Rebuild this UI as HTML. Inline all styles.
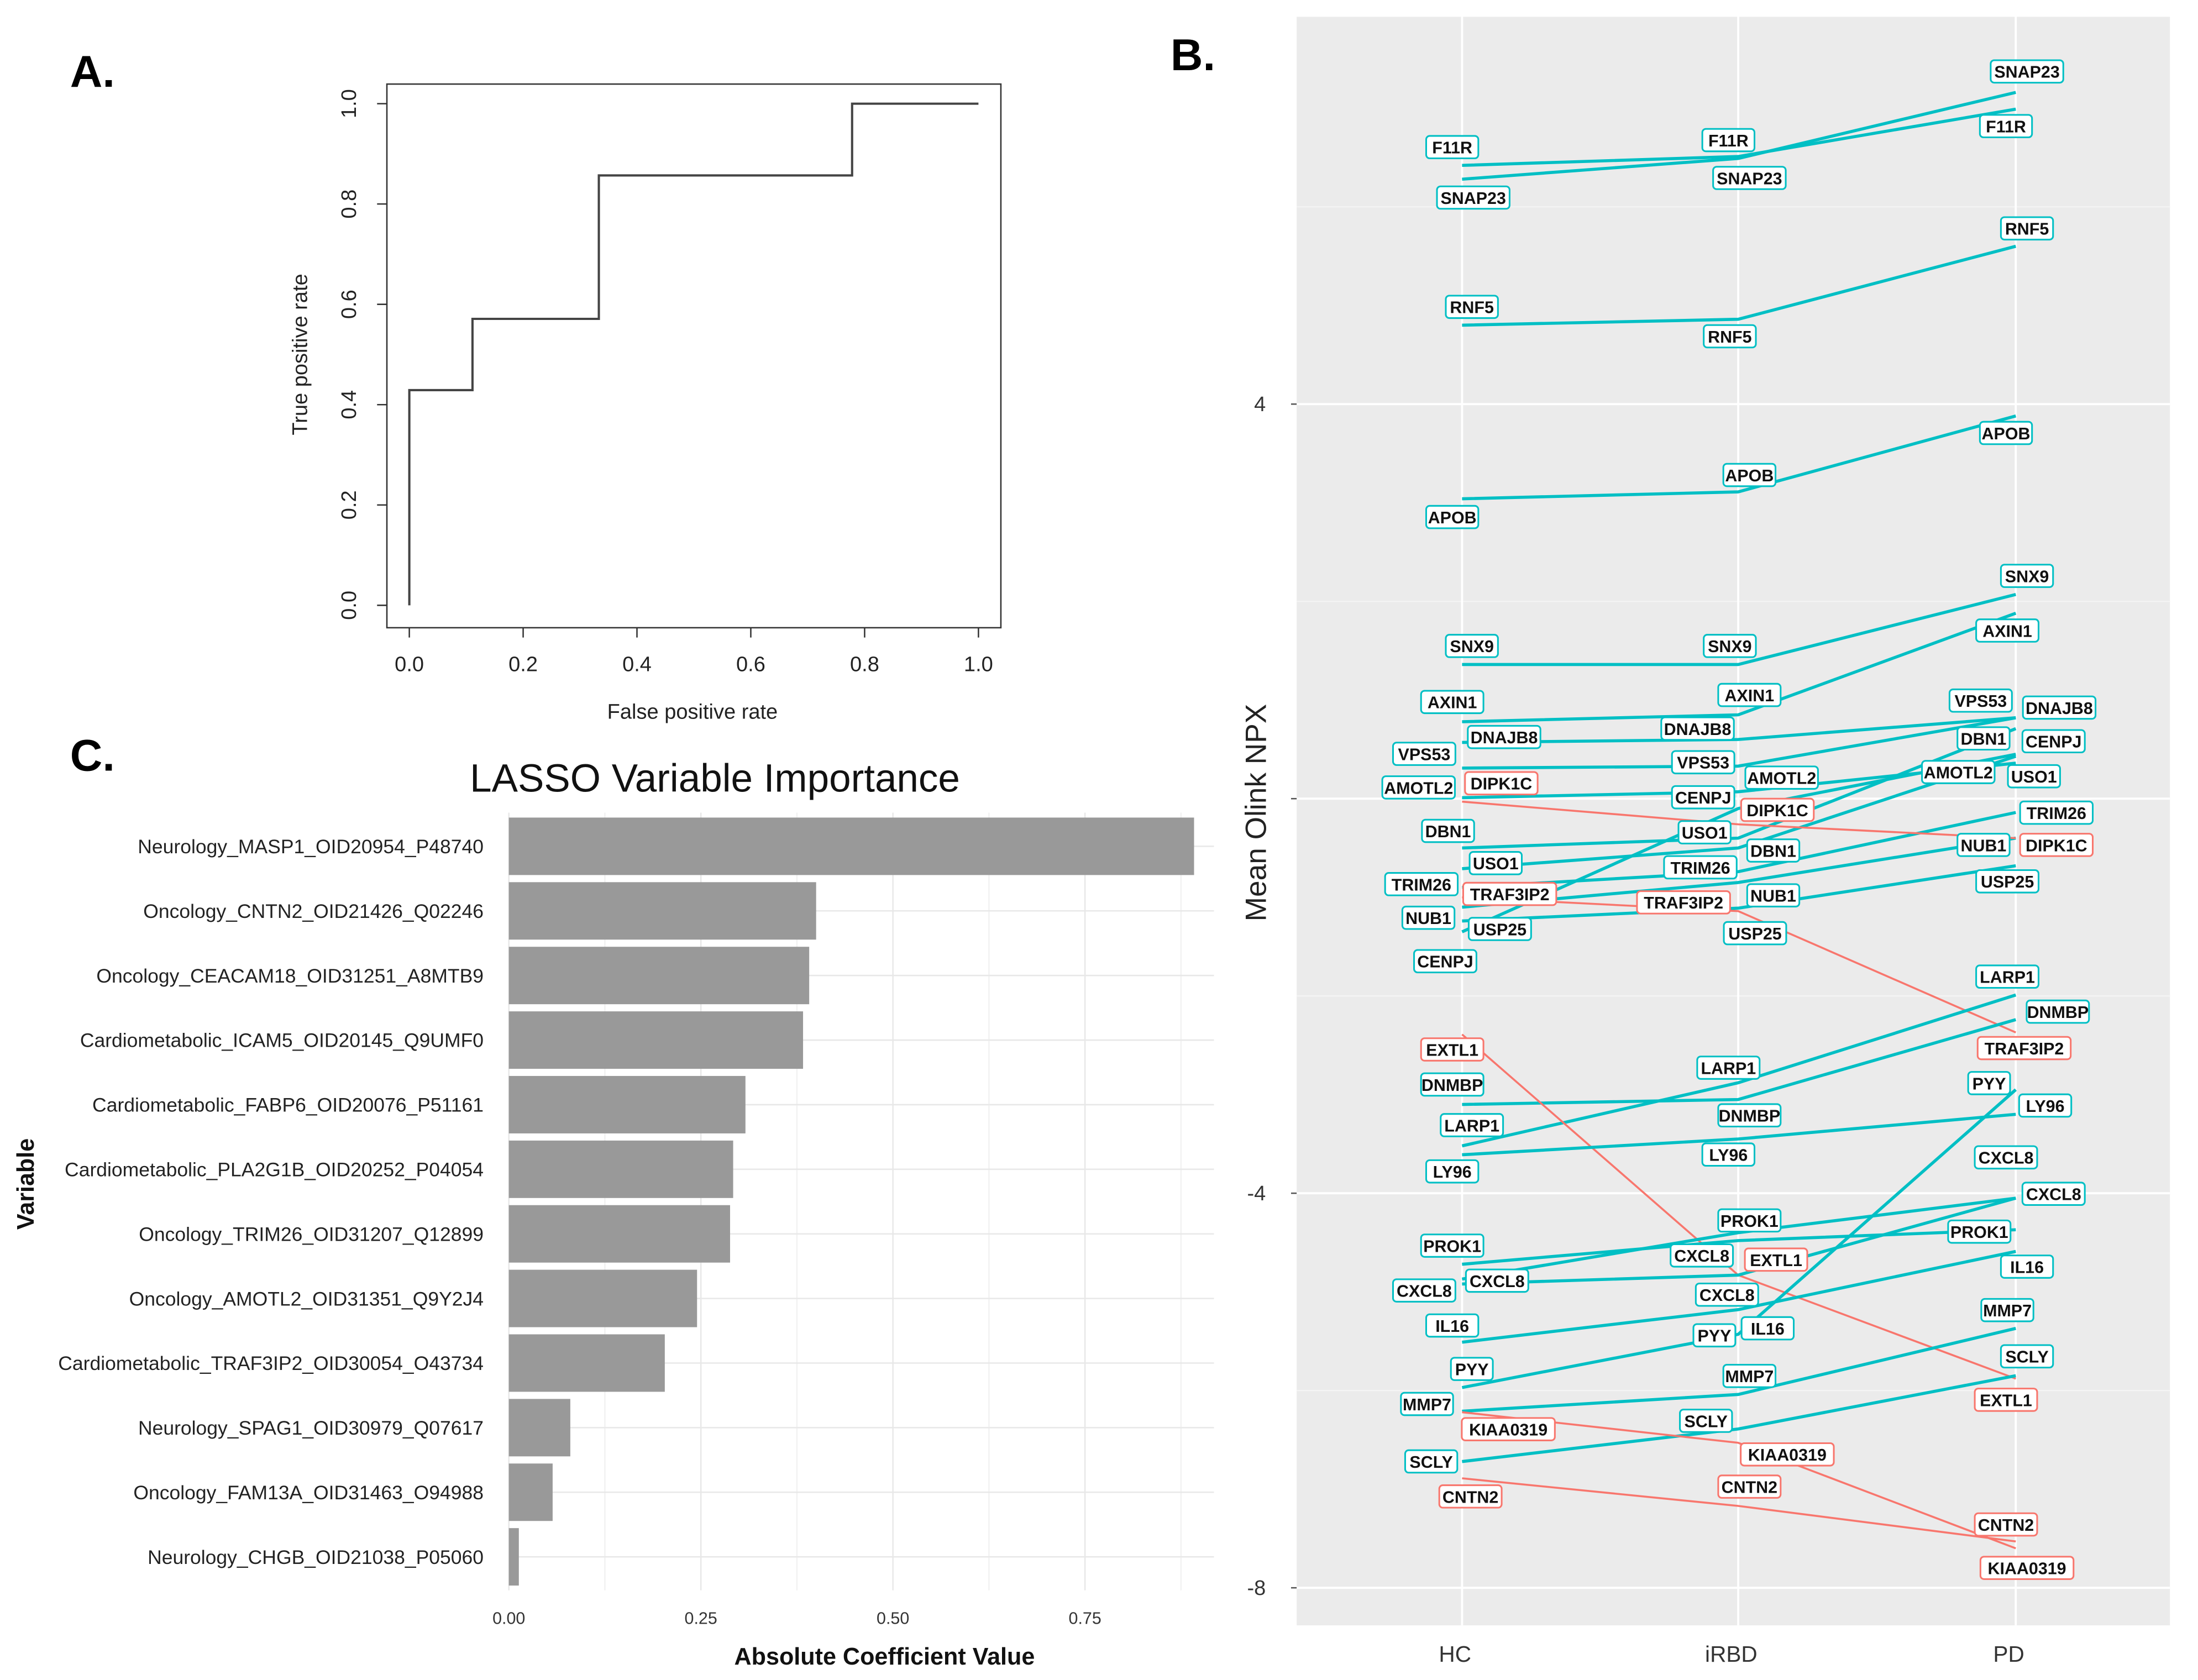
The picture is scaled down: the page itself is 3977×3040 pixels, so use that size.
<!DOCTYPE html>
<html><head><meta charset="utf-8"><style>
html,body{margin:0;padding:0;background:#fff;}
svg{display:block;}
</style></head><body>
<svg id="fig" xmlns="http://www.w3.org/2000/svg" width="3977" height="3040" viewBox="0 0 1568 1199" preserveAspectRatio="none" font-family="Liberation Sans, sans-serif">
<rect x="0" y="0" width="1568" height="1199" fill="#fff"/>
<text x="50" y="62" font-size="32" font-weight="bold">A.</text>
<text x="835" y="50" font-size="32" font-weight="bold">B.</text>
<text x="50" y="550" font-size="32" font-weight="bold">C.</text>
<g id="roc"></g>
<g id="lasso"></g>
<g id="npx"></g>
</svg>
<script>
// ---------- Panel A data ----------
const rocFpr = [0, 0, 0.111, 0.111, 0.333, 0.333, 0.778, 0.778, 1.0];
const rocTpr = [0, 0.429, 0.429, 0.571, 0.571, 0.857, 0.857, 1.0, 1.0];
const rocTicks = ["0.0","0.2","0.4","0.6","0.8","1.0"];

// ---------- Panel C data ----------
const lassoVars = ["Neurology_MASP1_OID20954_P48740","Oncology_CNTN2_OID21426_Q02246","Oncology_CEACAM18_OID31251_A8MTB9","Cardiometabolic_ICAM5_OID20145_Q9UMF0","Cardiometabolic_FABP6_OID20076_P51161","Cardiometabolic_PLA2G1B_OID20252_P04054","Oncology_TRIM26_OID31207_Q12899","Oncology_AMOTL2_OID31351_Q9Y2J4","Cardiometabolic_TRAF3IP2_OID30054_O43734","Neurology_SPAG1_OID30979_Q07617","Oncology_FAM13A_OID31463_O94988","Neurology_CHGB_OID21038_P05060"];
const lassoVals = [0.892, 0.400, 0.391, 0.383, 0.308, 0.292, 0.288, 0.245, 0.203, 0.080, 0.057, 0.013];
const lassoTicks = ["0.00","0.25","0.50","0.75"];

// ---------- Panel B data ----------
const groups = ["HC","iRBD","PD"];
const proteins = ["SNAP23","F11R","RNF5","APOB","SNX9","AXIN1","DNAJB8","VPS53","DBN1","AMOTL2","CENPJ","USO1","TRIM26","NUB1","USP25","DIPK1C","TRAF3IP2","LARP1","DNMBP","EXTL1","LY96","PYY","CXCL8","CXCL8","PROK1","IL16","MMP7","SCLY","KIAA0319","CNTN2"];
const hcVals   = [6.28,6.42,4.80,3.04,1.36,0.78,0.57,0.31,-0.50,0.01,-1.35,-0.71,-0.90,-1.10,-1.24,-0.03,-1.00,-3.52,-3.10,-2.39,-3.61,-5.97,-4.92,-4.87,-4.72,-5.51,-6.21,-6.72,-6.22,-6.89];
const irbdVals = [6.49,6.51,4.86,3.11,1.36,0.85,0.60,0.33,-0.40,0.07,-0.10,-0.50,-0.74,-0.85,-1.11,-0.26,-1.14,-2.88,-3.05,-4.83,-3.45,-5.43,-4.83,-4.40,-4.48,-5.18,-6.04,-6.39,-6.53,-7.17];
const pdVals   = [7.16,6.99,5.60,3.88,2.07,1.88,0.82,0.82,0.71,0.36,0.45,0.43,-0.14,-0.40,-0.68,-0.40,-2.37,-1.99,-2.24,-5.88,-3.20,-2.95,-4.05,-4.05,-4.37,-4.59,-5.37,-5.85,-7.60,-7.53];
const downReg  = [0,0,0,0,0,0,0,0,0,0,0,0,0,0,0,1,1,0,0,1,0,0,0,0,0,0,0,0,1,1];
const npxTicks = ["4","-4","-8"];
const npxTickVals = [4,-4,-8];

// label layout (pixel positions, not data)
const labelXY = [
 [[1051,141],[1248,127],[1446,51]],[[1036,105],[1233,100],[1431,90]],[[1050,219],[1234,240],[1446,163]],
 [[1036,369],[1248,339],[1431,309]],[[1050,461],[1234,461],[1446,411]],[[1036,501],[1248,496],[1432,450]],
 [[1073,526],[1211,520],[1469,505]],[[1016,538],[1215,544],[1413,500]],[[1033,593],[1265,607],[1415,527]],
 [[1012,562],[1271,555],[1397,551]],[[1031,686],[1215,569],[1465,529]],[[1067,616],[1216,594],[1451,554]],
 [[1014,631],[1213,619],[1467,580]],[[1019,655],[1265,639],[1415,603]],[[1070,663],[1252,666],[1432,629]],
 [[1071,559],[1268,578],[1467,603]],[[1077,638],[1201,644],[1444,748]],[[1050,803],[1233,762],[1432,697]],
 [[1036,774],[1248,796],[1468,722]],[[1036,749],[1267,899],[1431,999]],[[1036,836],[1233,824],[1459,789]],
 [[1050,977],[1223,953],[1419,773]],[[1016,921],[1214,896],[1431,826]],[[1068,914],[1232,924],[1465,852]],
 [[1036,889],[1248,871],[1412,879]],[[1036,946],[1261,948],[1446,904]],[[1018,1002],[1248,982],[1432,935]],
 [[1021,1043],[1217,1014],[1446,968]],[[1076,1020],[1275,1038],[1446,1119]],[[1049,1068],[1248,1061],[1431,1088]]
];

const NS = "http://www.w3.org/2000/svg";
function mk(parent, tag, attrs, text){
  const e = document.createElementNS(NS, tag);
  for (const k in attrs) e.setAttribute(k, attrs[k]);
  if (text !== undefined) e.textContent = text;
  parent.appendChild(e);
  return e;
}

// ---------- Panel A ----------
(function(){
  const g = document.getElementById('roc');
  const xS = v => 292 + v * 406;
  const yS = v => 432 - v * 358;
  const box = mk(g,'rect',{x:276,y:60,width:438,height:388,fill:'none',stroke:'#333','stroke-width':1});
  
  
  rocTicks.forEach((t,i)=>{
    const v = parseFloat(t);
    const tx = mk(g,'line',{x1:xS(v),x2:xS(v),y1:448,y2:455,stroke:'#333'});
    
    
    const lx = mk(g,'text',{x:xS(v),y:479,'font-size':15,'text-anchor':'middle',fill:'#222'},t);
    
    
    const ty = mk(g,'line',{x1:269,x2:276,y1:yS(v),y2:yS(v),stroke:'#333'});
    
    
    const ly = mk(g,'text',{x:0,y:0,'font-size':15,'text-anchor':'middle',fill:'#222',transform:`translate(254,${yS(v)}) rotate(-90)`},t);
    
    
  });
  const xt = mk(g,'text',{x:494,y:513,'font-size':15,'text-anchor':'middle',fill:'#222'},'False positive rate');
  
  
  const yt = mk(g,'text',{x:0,y:0,'font-size':15,'text-anchor':'middle',fill:'#222',transform:'translate(219,253) rotate(-90)'},'True positive rate');
  
  
  const pts = rocFpr.map((f,i)=>xS(f)+','+yS(rocTpr[i])).join(' ');
  const pl = mk(g,'polyline',{points:pts,fill:'none',stroke:'#444','stroke-width':1.6});
  
  
})();

// ---------- Panel C ----------
(function(){
  const g = document.getElementById('lasso');
  const x0 = 363, xk = 548;
  const xS = v => x0 + v * xk;
  const rowY = i => 604 + i * 46.1;
  // grid
  for (let k=0;k<8;k++){
    const v = k*0.125;
    if (xS(v) > 866) break;
    const gl = mk(g,'line',{x1:xS(v),x2:xS(v),y1:580,y2:1135,stroke:k%2?'#f2f2f2':'#e8e8e8','stroke-width':1});
    
    
  }
  lassoVars.forEach((n,i)=>{
    const hl = mk(g,'line',{x1:x0,x2:866,y1:rowY(i),y2:rowY(i),stroke:'#e8e8e8','stroke-width':1});
    
    
  });
  lassoVars.forEach((n,i)=>{
    const b = mk(g,'rect',{x:x0,y:rowY(i)-20.5,width:lassoVals[i]*xk,height:41,fill:'#999999'});
    
    
    const t = mk(g,'text',{x:345,y:rowY(i)+5,'font-size':14,'text-anchor':'end',fill:'#222','font-family':'Liberation Sans Narrow, Liberation Sans, sans-serif'},n);
    
    
  });
  lassoTicks.forEach(t=>{
    const v = parseFloat(t);
    const lb = mk(g,'text',{x:xS(v),y:1159,'font-size':12,'text-anchor':'middle',fill:'#333','font-family':'Liberation Sans Narrow, Liberation Sans, sans-serif'},t);
    
    
  });
  const title = mk(g,'text',{x:510,y:565,'font-size':28,'text-anchor':'middle',fill:'#111','font-family':'Liberation Sans Narrow, Liberation Sans, sans-serif'},'LASSO Variable Importance');
  
  
  const xt = mk(g,'text',{x:631,y:1188,'font-size':17,'font-weight':'bold','text-anchor':'middle',fill:'#111','font-family':'Liberation Sans Narrow, Liberation Sans, sans-serif'},'Absolute Coefficient Value');
  
  
  const yt = mk(g,'text',{x:0,y:0,'font-size':17,'font-weight':'bold','text-anchor':'middle',fill:'#111',transform:'translate(24,845) rotate(-90)'},'Variable');
  
  
})();

// ---------- Panel B ----------
(function(){
  const g = document.getElementById('npx');
  const gx = [1043, 1240, 1438];
  const yS = v => 570 - v * 70.4;
  const bg = mk(g,'rect',{x:925,y:12,width:623,height:1148,fill:'#ebebeb'});
  
  
  [6,2,-2,-6].forEach(v=>{
    const l = mk(g,'line',{x1:925,x2:1548,y1:yS(v),y2:yS(v),stroke:'#f5f5f5','stroke-width':0.8});
    
    
  });
  [4,0,-4,-8].forEach(v=>{
    const l = mk(g,'line',{x1:925,x2:1548,y1:yS(v),y2:yS(v),stroke:'#fff','stroke-width':1.5});
    
    
    const tk = mk(g,'line',{x1:921,x2:925,y1:yS(v),y2:yS(v),stroke:'#555'});
    
    
  });
  gx.forEach((x,i)=>{
    const l = mk(g,'line',{x1:x,x2:x,y1:12,y2:1160,stroke:'#fff','stroke-width':1.5});
    
    
    const t = mk(g,'text',{x:x-5,y:1186,'font-size':16,'text-anchor':'middle',fill:'#333'},groups[i]);
    
    
  });
  npxTicks.forEach((t,i)=>{
    const lb = mk(g,'text',{x:903,y:yS(npxTickVals[i])+5,'font-size':15,'text-anchor':'end',fill:'#333'},t);
    
    
  });
  const yt = mk(g,'text',{x:0,y:0,'font-size':21,'text-anchor':'middle',fill:'#222',transform:'translate(903,580) rotate(-90)'},'Mean Olink NPX');
  
  
  // lines
  proteins.forEach((p,i)=>{
    const vals = [hcVals[i], irbdVals[i], pdVals[i]];
    const col = downReg[i] ? '#F8766D' : '#00BFC4';
    const pts = vals.map((v,j)=>gx[j]+','+yS(v)).join(' ');
    const pl = mk(g,'polyline',{points:pts,fill:'none',stroke:col,'stroke-width':downReg[i]?1.4:2.2});
    
    
  });
  // labels
  proteins.forEach((p,i)=>{
    const col = downReg[i] ? '#F8766D' : '#00BFC4';
    labelXY[i].forEach((xy,j)=>{
      const w = p.length * 7.3 + 8, h = 16;
      const r = mk(g,'rect',{x:xy[0]-w/2,y:xy[1]-h/2,width:w,height:h,rx:2.5,fill:'#fff',stroke:col,'stroke-width':1.2});
      
      
      const t = mk(g,'text',{x:xy[0],y:xy[1]+4.5,'font-size':12,'font-weight':'bold','text-anchor':'middle',fill:'#111','font-family':'Liberation Sans Narrow, Liberation Sans, sans-serif'},p);
      
      
    });
  });
})();
</script>
</body></html>
